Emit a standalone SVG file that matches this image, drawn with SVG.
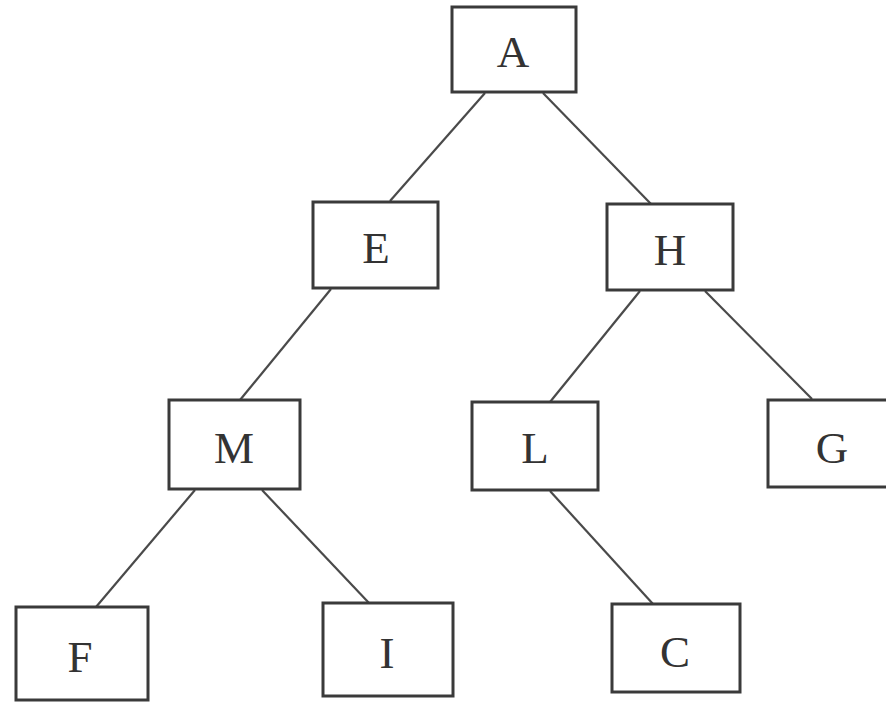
<svg xmlns="http://www.w3.org/2000/svg" width="886" height="704" viewBox="0 0 886 704">
<style>
.box{fill:#fff;stroke:#3a3a3a;stroke-width:3}
.lbl{font-family:"Liberation Serif",serif;font-size:45px;fill:#333;text-anchor:middle}
.edge{stroke:#4a4a4a;stroke-width:2.2;fill:none}
</style>
<rect width="886" height="704" fill="#fff"/>
<g id="connectors">
<line class="edge" x1="485" y1="93" x2="390" y2="201"/>
<line class="edge" x1="543" y1="93" x2="651" y2="204"/>
<line class="edge" x1="331" y1="289" x2="240" y2="400"/>
<line class="edge" x1="640" y1="291" x2="550" y2="402"/>
<line class="edge" x1="705" y1="291" x2="812" y2="399"/>
<line class="edge" x1="195" y1="490" x2="96" y2="607"/>
<line class="edge" x1="262" y1="490" x2="369" y2="603"/>
<line class="edge" x1="550" y1="491" x2="653" y2="604"/>
</g>
<g id="A"><rect class="box" x="452" y="7" width="124" height="85"/><text class="lbl" x="513" y="67">A</text></g>
<g id="E"><rect class="box" x="313" y="202" width="125" height="86"/><text class="lbl" x="376" y="263">E</text></g>
<g id="H"><rect class="box" x="607" y="204" width="126" height="86"/><text class="lbl" x="670" y="265">H</text></g>
<g id="M"><rect class="box" x="169" y="400" width="131" height="89"/><text class="lbl" x="234" y="463">M</text></g>
<g id="L"><rect class="box" x="472" y="402" width="126" height="88"/><text class="lbl" x="535" y="463">L</text></g>
<g id="G"><rect class="box" x="768" y="400" width="130" height="87"/><text class="lbl" x="832" y="463">G</text></g>
<g id="F"><rect class="box" x="16" y="607" width="132" height="93"/><text class="lbl" x="80" y="672">F</text></g>
<g id="I"><rect class="box" x="323" y="603" width="130" height="93"/><text class="lbl" x="387" y="668">I</text></g>
<g id="C"><rect class="box" x="612" y="604" width="128" height="88"/><text class="lbl" x="675" y="667">C</text></g>
</svg>
